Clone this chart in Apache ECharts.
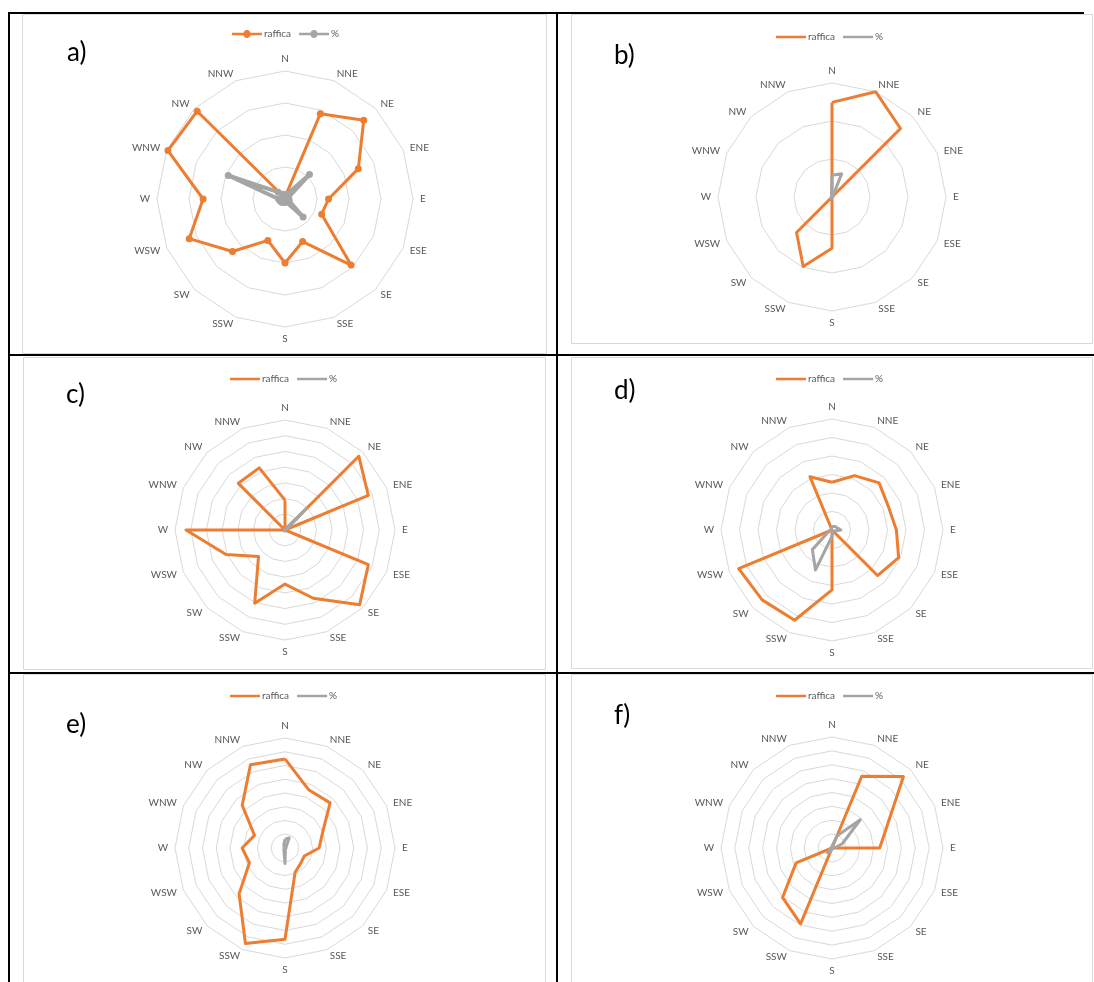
<!DOCTYPE html>
<html>
<head>
<meta charset="utf-8">
<script src="https://cdn.jsdelivr.net/npm/echarts@6/dist/echarts.min.js"></script>
<style>
  html, body { margin: 0; padding: 0; background: #ffffff; }
  #chart { width: 1094px; height: 982px; }
</style>
</head>
<body>
<div id="chart"></div>
<script>
// Compass sectors, clockwise from north
const directions = ['N','NNE','NE','ENE','E','ESE','SE','SSE','S','SSW','SW','WSW','W','WNW','NW','NNW'];
const seriesNames = ['raffica', '%'];

// a) gusts and frequency per sector
const gustA = [0.3, 14.4, 17.4, 12.4, 6.8, 6.2, 14.6, 7.2, 10, 7, 11.6, 16.2, 12.8, 19.8, 19.4, 0.3];
const pctA  = [0.6, 0.8, 5.4, 0.5, 0.6, 0.7, 4.0, 0.5, 0.5, 0.6, 0.7, 0.8, 1.0, 9.6, 1.5, 0.8];
// b)
const gustB = [24.9, 30, 25.5, 0, 0, 0, 0, 0, 13.5, 19.8, 13.2, 0, 0, 0, 0, 0];
const pctB  = [5.7, 6.6, 0.3, 0.3, 0.2, 0.2, 0.2, 0.2, 0.3, 0.4, 0.3, 0.2, 0.2, 0.2, 0.2, 0.3];
// c)
const gustC = [9.5, 0, 33.2, 28.7, 0, 28.7, 33.6, 23.5, 17.2, 25.2, 11.9, 20.3, 31.5, 0, 21, 21.4];
const pctC  = [0.4, 0.5, 9.5, 0.5, 0.3, 0.3, 0.3, 0.3, 0.3, 0.3, 0.4, 0.3, 0.3, 0.3, 0.3, 0.3];
// d)
const gustD = [12.9, 15.9, 18, 16.5, 17.4, 19.5, 17.4, 0, 16.2, 26.4, 26.7, 27.3, 0, 0, 0, 15.6];
const pctD  = [0.9, 1.0, 1.3, 1.5, 2.4, 0.7, 0.4, 0.5, 1.7, 11.7, 7.5, 0.9, 0.3, 0.3, 0.3, 0.4];
// e)
const gustE = [32.4, 22.8, 23.2, 14.8, 12.4, 7.6, 8, 9.6, 33.2, 37.6, 23.6, 14, 15.6, 12, 22, 32.8];
const pctE  = [3.2, 4.0, 0.6, 0.4, 0.4, 0.3, 0.3, 0.4, 5.6, 1.0, 0.5, 0.4, 0.3, 0.3, 0.4, 1.2];
// f)
const gustF = [0, 28, 36.4, 21.6, 17.2, 0, 0, 0, 0, 29.6, 25.2, 14, 0, 0, 0, 0];
const pctF  = [0.6, 4.8, 14.4, 4.0, 0.8, 0.3, 0.3, 0.3, 0.4, 1.6, 2.4, 0.6, 0.3, 0.3, 0.3, 0.4];

const panelLetters = ['a)', 'b)', 'c)', 'd)', 'e)', 'f)'];
const scaleMax   = [20, 30, 35, 30, 40, 40];
const ringCount  = [4, 3, 7, 6, 8, 8];

const ORANGE = '#ED7D31';
const GREY = '#A5A5A5';

// Layout of the six panels
const panels = [
  { cx: 285, cy: 199, r: 128, box: [22, 14, 546, 353], legendTop: 29, legendLeft: 232, letter: [67, 40], markers: true },
  { cx: 832, cy: 197, r: 114, box: [571, 14, 1092, 343], legendTop: 32, legendLeft: 776, letter: [614, 43], markers: false },
  { cx: 285, cy: 530, r: 110, box: [23, 357, 545, 669], legendTop: 374, legendLeft: 230, letter: [66, 382], markers: false },
  { cx: 832, cy: 530, r: 111, box: [571, 357, 1092, 668], legendTop: 374, legendLeft: 776, letter: [614, 378], markers: false },
  { cx: 285, cy: 848, r: 110, box: [23, 674, 545, 992], legendTop: 691, legendLeft: 230, letter: [66, 712], markers: false },
  { cx: 832, cy: 848, r: 111, box: [571, 674, 1092, 992], legendTop: 691, legendLeft: 776, letter: [614, 703], markers: false }
];

const gusts = [gustA, gustB, gustC, gustD, gustE, gustF];
const pcts  = [pctA, pctB, pctC, pctD, pctE, pctF];

// ECharts lays radar indicators out counter-clockwise; reverse to run clockwise from N
const toRadarOrder = arr => [arr[0]].concat(arr.slice(1).reverse());

const lineIcon = 'path://M0,4L30,4L30,6.5L0,6.5Z';
const lineDotIcon = 'path://M0,4L11.5,4A3.6,3.6 0 0 1 18.5,4L30,4L30,6.5L18.5,6.5A3.6,3.6 0 0 1 11.5,6.5L0,6.5Z';

const radars = panels.map((p, i) => ({
  center: [p.cx, p.cy],
  radius: p.r,
  startAngle: 90,
  shape: 'polygon',
  splitNumber: ringCount[i],
  nameGap: 7,
  indicator: toRadarOrder(directions).map(name => ({ name, min: 0, max: scaleMax[i] })),
  axisName: { color: '#595959', fontSize: 10, fontFamily: 'Lato' },
  splitLine: { lineStyle: { color: '#D9D9D9', width: 1 } },
  splitArea: { show: false },
  axisLine: { show: false },
  axisTick: { show: false },
  axisLabel: { show: false }
}));

const series = panels.map((p, i) => ({
  type: 'radar',
  radarIndex: i,
  symbol: p.markers ? 'circle' : 'none',
  symbolSize: 7,
  data: [
    { name: seriesNames[0], value: toRadarOrder(gusts[i]),
      lineStyle: { color: ORANGE, width: 3 }, itemStyle: { color: ORANGE } },
    { name: seriesNames[1], value: toRadarOrder(pcts[i]),
      lineStyle: { color: GREY, width: p.markers ? 4 : 3 }, itemStyle: { color: GREY } }
  ]
}));

const legends = panels.map(p => ({
  left: p.legendLeft,
  top: p.legendTop,
  padding: 0,
  itemGap: 8,
  itemWidth: 30,
  itemHeight: 8,
  selectedMode: false,
  textStyle: { color: '#595959', fontSize: 10, fontFamily: 'Lato', padding: [0, 0, 0, -3] },
  data: [
    { name: seriesNames[0], icon: p.markers ? lineDotIcon : lineIcon, itemStyle: { color: ORANGE } },
    { name: seriesNames[1], icon: p.markers ? lineDotIcon : lineIcon, itemStyle: { color: GREY } }
  ]
}));

const graphics = [];
// panel frames
panels.forEach((p, i) => {
  const [x0, y0, x1, y1] = p.box;
  graphics.push({
    type: 'rect', z: -2, silent: true,
    shape: { x: x0 + 0.5, y: y0 + 0.5, width: x1 - x0, height: y1 - y0 },
    style: { fill: '#ffffff', stroke: '#D9D9D9', lineWidth: 1 }
  });
  graphics.push({
    type: 'text', silent: true,
    left: p.letter[0], top: p.letter[1],
    style: { text: panelLetters[i], fill: '#000000', fontSize: 26, fontFamily: 'Lato' }
  });
});
// outer table rules
const blackRules = [
  [8, 13, 1084, 13],
  [8, 355, 1094, 355],
  [8, 673, 1094, 673],
  [9, 12, 9, 982],
  [557, 12, 557, 982]
];
blackRules.forEach(([x1, y1, x2, y2]) => {
  graphics.push({
    type: 'line', z: 10, silent: true,
    shape: { x1, y1, x2, y2 },
    style: { stroke: '#000000', lineWidth: 2 }
  });
});

const chart = echarts.init(document.getElementById('chart'), null, { renderer: 'canvas' });
chart.setOption({
  animation: false,
  backgroundColor: '#ffffff',
  legend: legends,
  radar: radars,
  series: series,
  graphic: graphics
});
</script>
</body>
</html>
